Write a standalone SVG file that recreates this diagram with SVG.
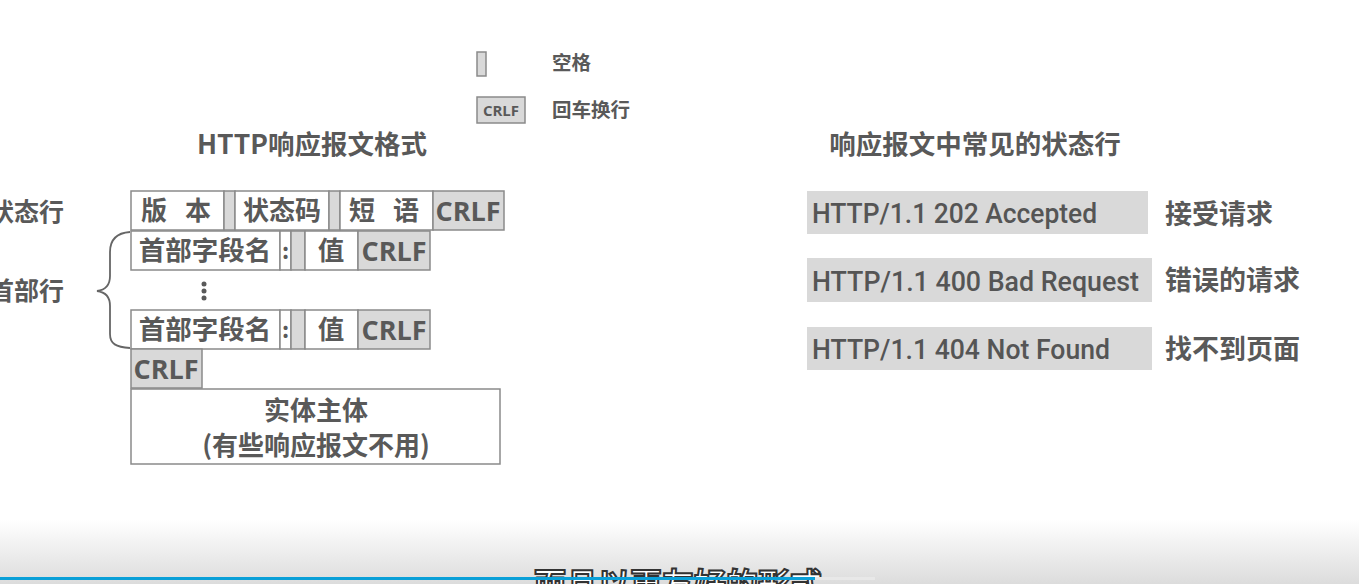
<svg xmlns="http://www.w3.org/2000/svg" width="1359" height="584" viewBox="0 0 1359 584">
<defs>
<linearGradient id="bottomFade" x1="0" y1="0" x2="0" y2="1">
<stop offset="0" stop-color="#ffffff"/>
<stop offset="1" stop-color="#dcdcdc"/>
</linearGradient>
<style>
.t{font-family:"Noto Sans CJK SC","Noto Sans",sans-serif;font-weight:bold;fill:#595959}
.lat{font-family:"Open Sans","Noto Sans",sans-serif;font-weight:bold;fill:#595959}
.rob{font-family:Roboto,"Liberation Sans",sans-serif;font-weight:500;fill:#555555}
.w{fill:#ffffff;stroke:#8a8a8a;stroke-width:1.5}
.g{fill:#d9d9d9;stroke:#8a8a8a;stroke-width:1.5}
.s{fill:#d9d9d9}
</style>
</defs>
<rect x="0" y="0" width="1359" height="584" fill="#ffffff"/>
<rect x="0" y="520" width="1359" height="64" fill="url(#bottomFade)"/>

<g id="legend">
<rect class="g" x="477" y="52" width="9" height="24"/>
<text class="t" x="552" y="70" font-size="19.5">空格</text>
<rect class="g" x="477" y="97" width="48" height="26"/>
<text class="lat" x="501" y="116" font-size="15" text-anchor="middle">CRLF</text>
<text class="t" x="552" y="117" font-size="19.5">回车换行</text>
</g>

<g id="titles">
<text class="t" x="312" y="154" font-size="26.5" text-anchor="middle">HTTP响应报文格式</text>
<text class="t" x="975" y="154" font-size="26.5" text-anchor="middle">响应报文中常见的状态行</text>
</g>

<g id="side-labels">
<text class="t" x="64" y="221" font-size="25" text-anchor="end">状态行</text>
<text class="t" x="64" y="300" font-size="25" text-anchor="end">首部行</text>
</g>

<g id="status-line">
<rect class="w" x="131" y="191" width="93" height="39"/>
<text class="t" x="154" y="220" font-size="26" text-anchor="middle">版</text>
<text class="t" x="198" y="220" font-size="26" text-anchor="middle">本</text>
<rect class="g" x="224" y="191" width="11" height="39"/>
<rect class="w" x="235" y="191" width="94" height="39"/>
<text class="t" x="282" y="220" font-size="26" text-anchor="middle">状态码</text>
<rect class="g" x="329" y="191" width="11" height="39"/>
<rect class="w" x="340" y="191" width="93" height="39"/>
<text class="t" x="362" y="220" font-size="26" text-anchor="middle">短</text>
<text class="t" x="406" y="220" font-size="26" text-anchor="middle">语</text>
<rect class="g" x="433" y="191" width="71" height="39"/>
<text class="lat" x="468" y="221" font-size="27" text-anchor="middle">CRLF</text>
</g>

<g id="header-line-1">
<rect class="w" x="131" y="231" width="149" height="39"/>
<text class="t" x="205" y="260" font-size="26.5" text-anchor="middle">首部字段名</text>
<rect class="w" x="280" y="231" width="11" height="39"/>
<text class="t" x="285.5" y="259" font-size="22" text-anchor="middle">:</text>
<rect class="g" x="291" y="231" width="14" height="39"/>
<rect class="w" x="305" y="231" width="53" height="39"/>
<text class="t" x="331" y="260" font-size="26.5" text-anchor="middle">值</text>
<rect class="g" x="358" y="231" width="72" height="39"/>
<text class="lat" x="394" y="261" font-size="27" text-anchor="middle">CRLF</text>
</g>

<g id="ellipsis">
<circle cx="204" cy="284" r="2.5" fill="#595959"/>
<circle cx="204" cy="291" r="2.5" fill="#595959"/>
<circle cx="204" cy="298" r="2.5" fill="#595959"/>
</g>

<g id="header-line-n">
<rect class="w" x="131" y="310" width="149" height="39"/>
<text class="t" x="205" y="339" font-size="26.5" text-anchor="middle">首部字段名</text>
<rect class="w" x="280" y="310" width="11" height="39"/>
<text class="t" x="285.5" y="338" font-size="22" text-anchor="middle">:</text>
<rect class="g" x="291" y="310" width="14" height="39"/>
<rect class="w" x="305" y="310" width="53" height="39"/>
<text class="t" x="331" y="339" font-size="26.5" text-anchor="middle">值</text>
<rect class="g" x="358" y="310" width="72" height="39"/>
<text class="lat" x="394" y="340" font-size="27" text-anchor="middle">CRLF</text>
</g>

<g id="blank-line">
<rect class="g" x="131" y="349" width="71" height="39"/>
<text class="lat" x="166" y="379" font-size="27" text-anchor="middle">CRLF</text>
</g>

<g id="entity-body">
<rect class="w" x="131" y="389" width="369" height="75"/>
<text class="t" x="316" y="420" font-size="26" text-anchor="middle">实体主体</text>
<text class="t" x="316" y="455" font-size="26" text-anchor="middle">(有些响应报文不用)</text>
</g>

<g id="connectors">
<path d="M130,232 C116,233 110,240 110,252 L110,276 C110,286 105,290 97,291 C105,292 110,296 110,306 L110,334 C110,344 116,347 130,348" fill="none" stroke="#666666" stroke-width="1.8"/>
</g>

<g id="status-202">
<rect class="s" x="807" y="191" width="341" height="43"/>
<text class="rob" x="812" y="223" font-size="28" textLength="285" lengthAdjust="spacingAndGlyphs">HTTP/1.1 202 Accepted</text>
<text class="t" x="1165" y="224" font-size="27">接受请求</text>
</g>
<g id="status-400">
<rect class="s" x="807" y="258" width="345" height="44"/>
<text class="rob" x="812" y="291" font-size="28" textLength="327" lengthAdjust="spacingAndGlyphs">HTTP/1.1 400 Bad Request</text>
<text class="t" x="1165" y="290" font-size="27">错误的请求</text>
</g>
<g id="status-404">
<rect class="s" x="807" y="327" width="345" height="43"/>
<text class="rob" x="812" y="359" font-size="28" textLength="298" lengthAdjust="spacingAndGlyphs">HTTP/1.1 404 Not Found</text>
<text class="t" x="1165" y="359" font-size="27">找不到页面</text>
</g>

<g id="subtitle">
<text x="678" y="596" font-size="32" text-anchor="middle" font-family="Noto Sans CJK SC,sans-serif" font-weight="bold" fill="#ffffff" stroke="#333333" stroke-width="2">而且以更友好的形式</text>
<rect x="815" y="577" width="60" height="3" fill="#e8e8e8"/>
<rect x="0" y="577" width="815" height="3" fill="#0aa0d8"/>
</g>
</svg>
